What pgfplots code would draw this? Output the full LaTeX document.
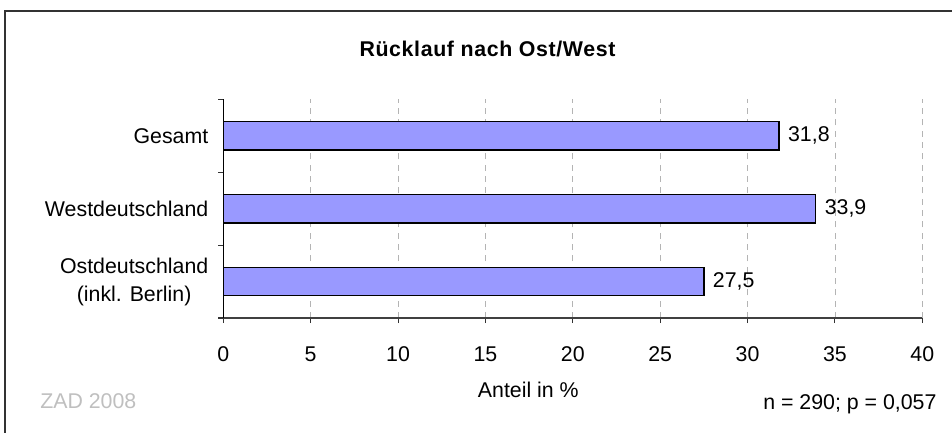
\documentclass[border=0pt]{standalone}
\usepackage{fontspec}
\setmainfont{Liberation Sans}
\usepackage{pgfplots}
\pgfplotsset{compat=1.18}
\definecolor{barfill}{HTML}{9999FF}
\definecolor{gridc}{HTML}{B4B4B4}
\definecolor{zadc}{HTML}{BFBFBF}
\newcommand{\px}[2]{({#1*0.75pt},{(432-#2)*0.75pt})}
\newcommand{\lab}{\fontsize{16}{21}\selectfont}
\begin{document}
\begin{tikzpicture}
\path[use as bounding box] \px{0}{0} rectangle \px{952}{432};
\clip \px{0}{0} rectangle \px{952}{432};
\draw[draw=black!80, line width=1.5pt] \px{5}{11} rectangle \px{970}{450};
\begin{axis}[
  at={(167.475pt,85.5pt)}, anchor=south west,
  scale only axis, width=524.25pt, height=163.9pt,
  xmin=0, xmax=40, ymin=-0.5, ymax=2.5,
  xbar, bar width=0.39,
  axis x line*=bottom, axis y line*=left,
  x axis line style={draw=black!75, line width=1pt, -},
  y axis line style={draw=black, line width=1pt, -},
  tick align=outside, major tick length=3.75pt,
  tick style={draw=black!80, line width=0.8pt},
  xtick={0,5,...,40},
  xmajorgrids,
  major grid style={draw=gridc, line width=0.6pt, dash pattern=on 4.5pt off 4pt},
  ytick={-0.5,0.5,1.5,2.5}, yticklabels={},
  extra y ticks={0,1,2},
  extra y tick labels={{Ostdeutschland\\(inkl. Berlin)},Westdeutschland,Gesamt},
  extra y tick style={tick style={draw=none}, grid=none,
     yticklabel style={anchor=east, align=center, font=\lab, xshift=-4pt}},
  xticklabel style={font=\lab, anchor=base, yshift=-29pt},
  /pgf/number format/assume math mode=true,
  nodes near coords,
  nodes near coords align={horizontal},
  every node near coord/.append style={font=\lab, anchor=west, xshift=3pt,
     /pgf/number format/use comma, /pgf/number format/fixed,
     /pgf/number format/precision=1, /pgf/number format/fixed zerofill},
  clip=false,
]
\addplot[fill=barfill, draw=black, line width=1pt] coordinates {
  (27.5,0) (33.9,1) (31.8,2)
};
\end{axis}
\node[anchor=base, font=\fontsize{16}{19}\selectfont\bfseries\addfontfeature{LetterSpace=3}] at \px{487.5}{56.7} {Rücklauf nach Ost/West};
\node[anchor=base, font=\lab, inner sep=0pt] at \px{528.3}{397.3} {Anteil in \%};
\node[anchor=base west, font=\lab, text=zadc, inner sep=0pt] at \px{40}{408.3} {ZAD 2008};
\node[anchor=base east, font=\lab, inner sep=0pt] at \px{936.7}{409.5} {n = 290; p = 0,057};
\end{tikzpicture}
\end{document}
